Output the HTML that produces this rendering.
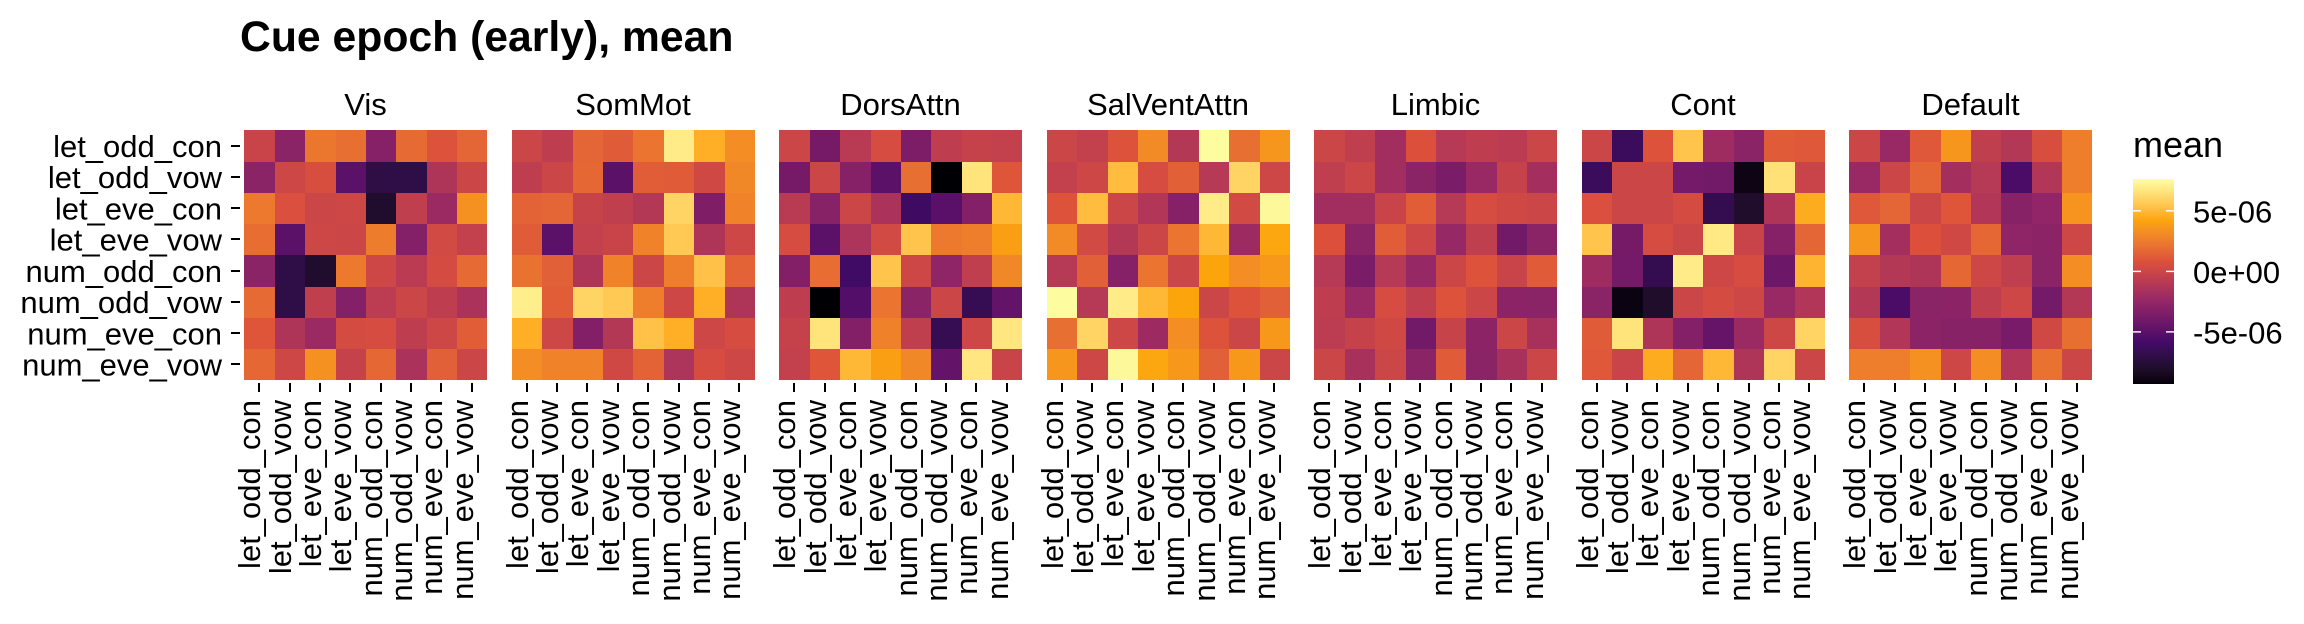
<!DOCTYPE html>
<html lang="en">
<head>
<meta charset="utf-8">
<title>Cue epoch (early), mean</title>
<style>
html,body{margin:0;padding:0;background:#fff;width:2304px;height:624px;overflow:hidden}
svg{display:block;font-family:"Liberation Sans",sans-serif}
</style>
</head>
<body>
<svg id="chart" xmlns="http://www.w3.org/2000/svg" width="2304" height="624" viewBox="0 0 2304 624">
<rect x="0" y="0" width="2304" height="624" fill="#fff"/>
<text x="240" y="51" font-size="42.7" font-weight="700" fill="#000">Cue epoch (early), mean</text>
<text x="2133" y="157" font-size="36" fill="#000">mean</text>
</svg>
<script>
const categories = ["let_odd_con","let_odd_vow","let_eve_con","let_eve_vow","num_odd_con","num_odd_vow","num_eve_con","num_eve_vow"];
const networks = ["Vis","SomMot","DorsAttn","SalVentAttn","Limbic","Cont","Default"];
const legendTicks = [5e-6, 0, -5e-6];
const legendLabels = ["5e-06","0e+00","-5e-06"];
const fillDomain = [-9.3, 7.63]; // in units of 1e-6
const paletteColours = ["#000004","#420A68","#932667","#DD513A","#FCA50A","#FCFFA4"];

// Cell means, in units of 1e-6, rows top to bottom.
const visValues = [
[-0.1,-2.9,2.3,2.0,-3.1,1.8,0.9,1.6],
[-2.9,0.1,0.6,-4.9,-7.1,-7.0,-1.3,0.0],
[2.4,0.7,0.0,0.1,-7.9,-0.5,-2.2,3.4],
[1.9,-4.9,0.1,0.0,2.5,-3.2,0.3,-0.4],
[-2.9,-7.0,-7.9,2.4,0.1,-0.8,0.4,1.8],
[1.8,-7.0,-0.5,-3.2,-0.7,0.0,-0.6,-1.5],
[1.0,-1.3,-2.2,0.4,0.5,-0.6,0.1,1.3],
[1.7,0.1,3.4,-0.3,1.7,-1.5,1.4,0.0]];
const somMotValues = [
[0.0,-0.6,1.6,1.2,2.2,6.9,4.6,3.2],
[-0.6,0.0,1.7,-4.9,1.3,1.2,0.2,3.0],
[1.5,1.6,-0.2,-0.5,-1.1,6.0,-3.4,2.8],
[1.2,-4.9,-0.4,-0.1,2.8,5.6,-1.3,0.1],
[2.1,1.4,-1.3,2.8,0.0,2.6,5.3,1.5],
[7.0,1.3,6.0,5.6,2.6,0.1,4.6,-1.3],
[4.6,0.1,-3.3,-1.1,5.3,4.6,0.1,0.5],
[3.2,2.8,2.8,0.2,1.5,-1.4,0.5,0.1]];
const dorsAttnValues = [
[0.0,-3.8,-0.9,0.5,-3.5,-0.6,-0.3,-0.4],
[-3.8,0.0,-3.1,-4.9,2.0,-9.3,6.6,1.0],
[-0.9,-3.0,0.0,-1.5,-6.1,-5.0,-3.2,4.9],
[0.5,-4.9,-1.4,0.3,5.4,2.4,2.6,4.0],
[-3.3,1.9,-6.0,5.4,0.1,-2.7,-0.5,3.0],
[-0.6,-9.3,-5.3,2.2,-2.9,0.0,-6.6,-4.6],
[-0.3,6.6,-3.3,2.7,-0.5,-6.6,0.1,6.7],
[-0.4,1.0,4.9,4.0,3.0,-4.6,6.7,-0.1]];
const salVentAttnValues = [
[0.0,-0.4,0.9,3.1,-1.1,7.5,2.0,3.6],
[-0.4,0.1,5.1,0.5,1.4,-1.0,6.0,0.1],
[0.9,5.1,0.0,-1.2,-3.1,6.9,0.3,7.4],
[3.1,0.3,-1.1,0.0,2.2,4.9,-2.1,4.3],
[-1.0,1.4,-3.1,2.2,0.0,4.2,3.2,3.7],
[7.5,-1.0,6.9,4.9,4.2,0.0,0.9,1.4],
[2.0,6.0,0.1,-2.1,3.2,0.9,0.0,3.7],
[3.6,0.1,7.4,4.3,3.7,1.4,3.7,0.0]];
const limbicValues = [
[0.0,-0.5,-1.9,0.8,-1.0,-0.6,-0.8,0.0],
[-0.5,0.0,-1.9,-2.9,-3.6,-2.3,-0.3,-1.8],
[-1.9,-1.9,-0.1,1.3,-1.0,0.5,0.2,0.0],
[0.8,-2.9,1.3,0.1,-2.4,-0.5,-4.0,-2.9],
[-1.0,-3.6,-1.0,-2.4,0.0,0.9,-0.1,1.2],
[-0.6,-2.3,0.5,-0.5,0.9,0.0,-2.8,-2.9],
[-0.7,-0.3,0.2,-4.0,-0.2,-2.8,0.0,-1.6],
[0.0,-1.6,0.0,-2.9,1.2,-2.9,-1.6,0.0]];
const contValues = [
[0.0,-6.3,0.9,5.4,-2.0,-2.9,1.2,1.1],
[-6.3,0.0,0.0,-3.9,-4.0,-8.9,6.5,-0.1],
[0.7,0.0,0.0,0.4,-6.7,-8.0,-1.3,4.5],
[5.4,-3.8,0.5,0.0,6.8,-0.1,-3.1,1.6],
[-2.0,-3.9,-6.7,6.9,0.1,0.5,-4.2,4.8],
[-2.9,-9.0,-8.0,0.0,0.4,0.1,-2.3,-1.2],
[1.2,6.6,-1.3,-3.2,-4.5,-2.2,0.1,6.0],
[1.1,-0.1,4.5,1.6,4.9,-1.3,6.0,0.0]];
const defaultValues = [
[0.0,-2.3,1.1,3.6,-0.5,-1.1,0.6,2.6],
[-2.3,0.0,1.6,-1.8,-1.0,-5.6,-1.2,2.6],
[1.1,1.6,0.0,1.0,-1.2,-3.0,-2.6,3.5],
[3.6,-1.8,0.8,0.2,1.7,-2.7,-2.8,0.1],
[-0.4,-1.1,-1.3,1.7,0.1,-0.5,-2.9,3.2],
[-1.1,-5.6,-2.9,-2.8,-0.5,0.1,-3.9,-1.1],
[0.6,-1.2,-2.8,-3.0,-3.0,-3.7,0.2,2.0],
[2.6,2.6,3.4,0.1,3.2,-1.2,2.1,0.0]];
const panelValues = [visValues,somMotValues,dorsAttnValues,salVentAttnValues,limbicValues,contValues,defaultValues];

const NS = "http://www.w3.org/2000/svg";
const svg = document.getElementById("chart");
const panelLeft = 244, panelPitch = 267.5, panelWidth = 243, panelTop = 130, panelHeight = 250;
const legendLeft = 2133, legendWidth = 41, legendTop = 179, legendBottom = 384;

function make(tag, attrs, text) {
  const el = document.createElementNS(NS, tag);
  for (const k in attrs) el.setAttribute(k, attrs[k]);
  if (text !== undefined) el.textContent = text;
  return el;
}
function hexToLab(hex) {
  const c = [1,3,5].map(i => parseInt(hex.substr(i,2),16)/255).map(v => v <= 0.04045 ? v/12.92 : Math.pow((v+0.055)/1.055,2.4));
  const x = (0.4124*c[0]+0.3576*c[1]+0.1805*c[2])/0.95047;
  const y = 0.2126*c[0]+0.7152*c[1]+0.0722*c[2];
  const z = (0.0193*c[0]+0.1192*c[1]+0.9505*c[2])/1.08883;
  const f = t => t > 0.008856 ? Math.cbrt(t) : 7.787*t+16/116;
  return [116*f(y)-16, 500*(f(x)-f(y)), 200*(f(y)-f(z))];
}
function labToRgb(l) {
  const fy = (l[0]+16)/116, fx = fy+l[1]/500, fz = fy-l[2]/200;
  const g = t => t*t*t > 0.008856 ? t*t*t : (t-16/116)/7.787;
  const x = g(fx)*0.95047, y = g(fy), z = g(fz)*1.08883;
  const rgb = [3.2406*x-1.5372*y-0.4986*z, -0.9689*x+1.8758*y+0.0415*z, 0.0557*x-0.2040*y+1.0570*z];
  return "rgb(" + rgb.map(v => {
    v = Math.max(0,Math.min(1,v));
    v = v <= 0.0031308 ? 12.92*v : 1.055*Math.pow(v,1/2.4)-0.055;
    return Math.round(v*255);
  }).join(",") + ")";
}
const paletteLab = paletteColours.map(hexToLab);
function fillScale(v) {
  let t = (v-fillDomain[0])/(fillDomain[1]-fillDomain[0]);
  t = Math.max(0,Math.min(1,t))*(paletteLab.length-1);
  const i = Math.min(paletteLab.length-2,Math.floor(t)), f = t-i;
  return labToRgb(paletteLab[i].map((a,k) => a+(paletteLab[i+1][k]-a)*f));
}
const bandW = panelWidth/categories.length, bandH = panelHeight/categories.length;
function xEdge(p, i) { return Math.ceil(panelLeft+p*panelPitch+i*bandW); }
function yEdge(i) { return Math.ceil(panelTop+i*bandH); }
function xCentre(p, i) { return Math.round(panelLeft+p*panelPitch+(i+0.5)*bandW); }
function yCentre(i) { return panelTop+(i+0.5)*bandH; }
function legendY(v) { return legendBottom-(v*1e6-fillDomain[0])/(fillDomain[1]-fillDomain[0])*(legendBottom-legendTop); }

// y-axis labels and ticks
categories.forEach((cat, r) => {
  const label = make("text", {x:222, y:(yCentre(r)+11.3).toFixed(1), "font-size":31, "text-anchor":"end", fill:"#000"}, cat);
  
  
  svg.appendChild(label);
  const tick = make("rect", {x:231, y:Math.round(yCentre(r))-1, width:9, height:2, fill:"#000"});
  
  
  svg.appendChild(tick);
});

// panels
networks.forEach((net, p) => {
  const group = make("g", {});
  
  
  svg.appendChild(group);
  const strip = make("text", {x:panelLeft+p*panelPitch+panelWidth/2, y:115, "font-size":31, "text-anchor":"middle", fill:"#000"}, net);
  
  
  group.appendChild(strip);
  panelValues[p].forEach((row, r) => {
    row.forEach((val, c) => {
      const x0 = xEdge(p,c), x1 = xEdge(p,c+1), y0 = yEdge(r), y1 = yEdge(r+1);
      const cell = make("rect", {x:x0, y:y0, width:x1-x0, height:y1-y0, fill:fillScale(val), "shape-rendering":"crispEdges"});
      
      
      group.appendChild(cell);
    });
  });
  categories.forEach((cat, c) => {
    const cx = xCentre(p,c);
    const tick = make("rect", {x:cx-1, y:383, width:2, height:9, fill:"#000"});
    
    
    group.appendChild(tick);
    const label = make("text", {transform:"translate("+(cx+1)+",400) rotate(-90)", "font-size":31, "text-anchor":"end", fill:"#000"}, cat);
    
    
    group.appendChild(label);
  });
});

// legend colour bar
const bar = make("g", {});


svg.appendChild(bar);
const barHeight = legendBottom-legendTop;
for (let i = 0; i < barHeight; i++) {
  const v = fillDomain[1]-(i+0.5)/barHeight*(fillDomain[1]-fillDomain[0]);
  const seg = make("rect", {x:legendLeft, y:legendTop+i, width:legendWidth, height:1, fill:fillScale(v), "shape-rendering":"crispEdges"});
  
  
  bar.appendChild(seg);
}
legendTicks.forEach((v, i) => {
  const y = legendY(v);
  [legendLeft, legendLeft+legendWidth-8].forEach(x => {
    const tick = make("rect", {x:x, y:(y-0.7).toFixed(1), width:8, height:1.4, fill:"#fff"});
    
    
    svg.appendChild(tick);
  });
  const label = make("text", {x:2193, y:(y+11.5).toFixed(1), "font-size":31, fill:"#000"}, legendLabels[i]);
  
  
  svg.appendChild(label);
});
</script>
</body>
</html>
